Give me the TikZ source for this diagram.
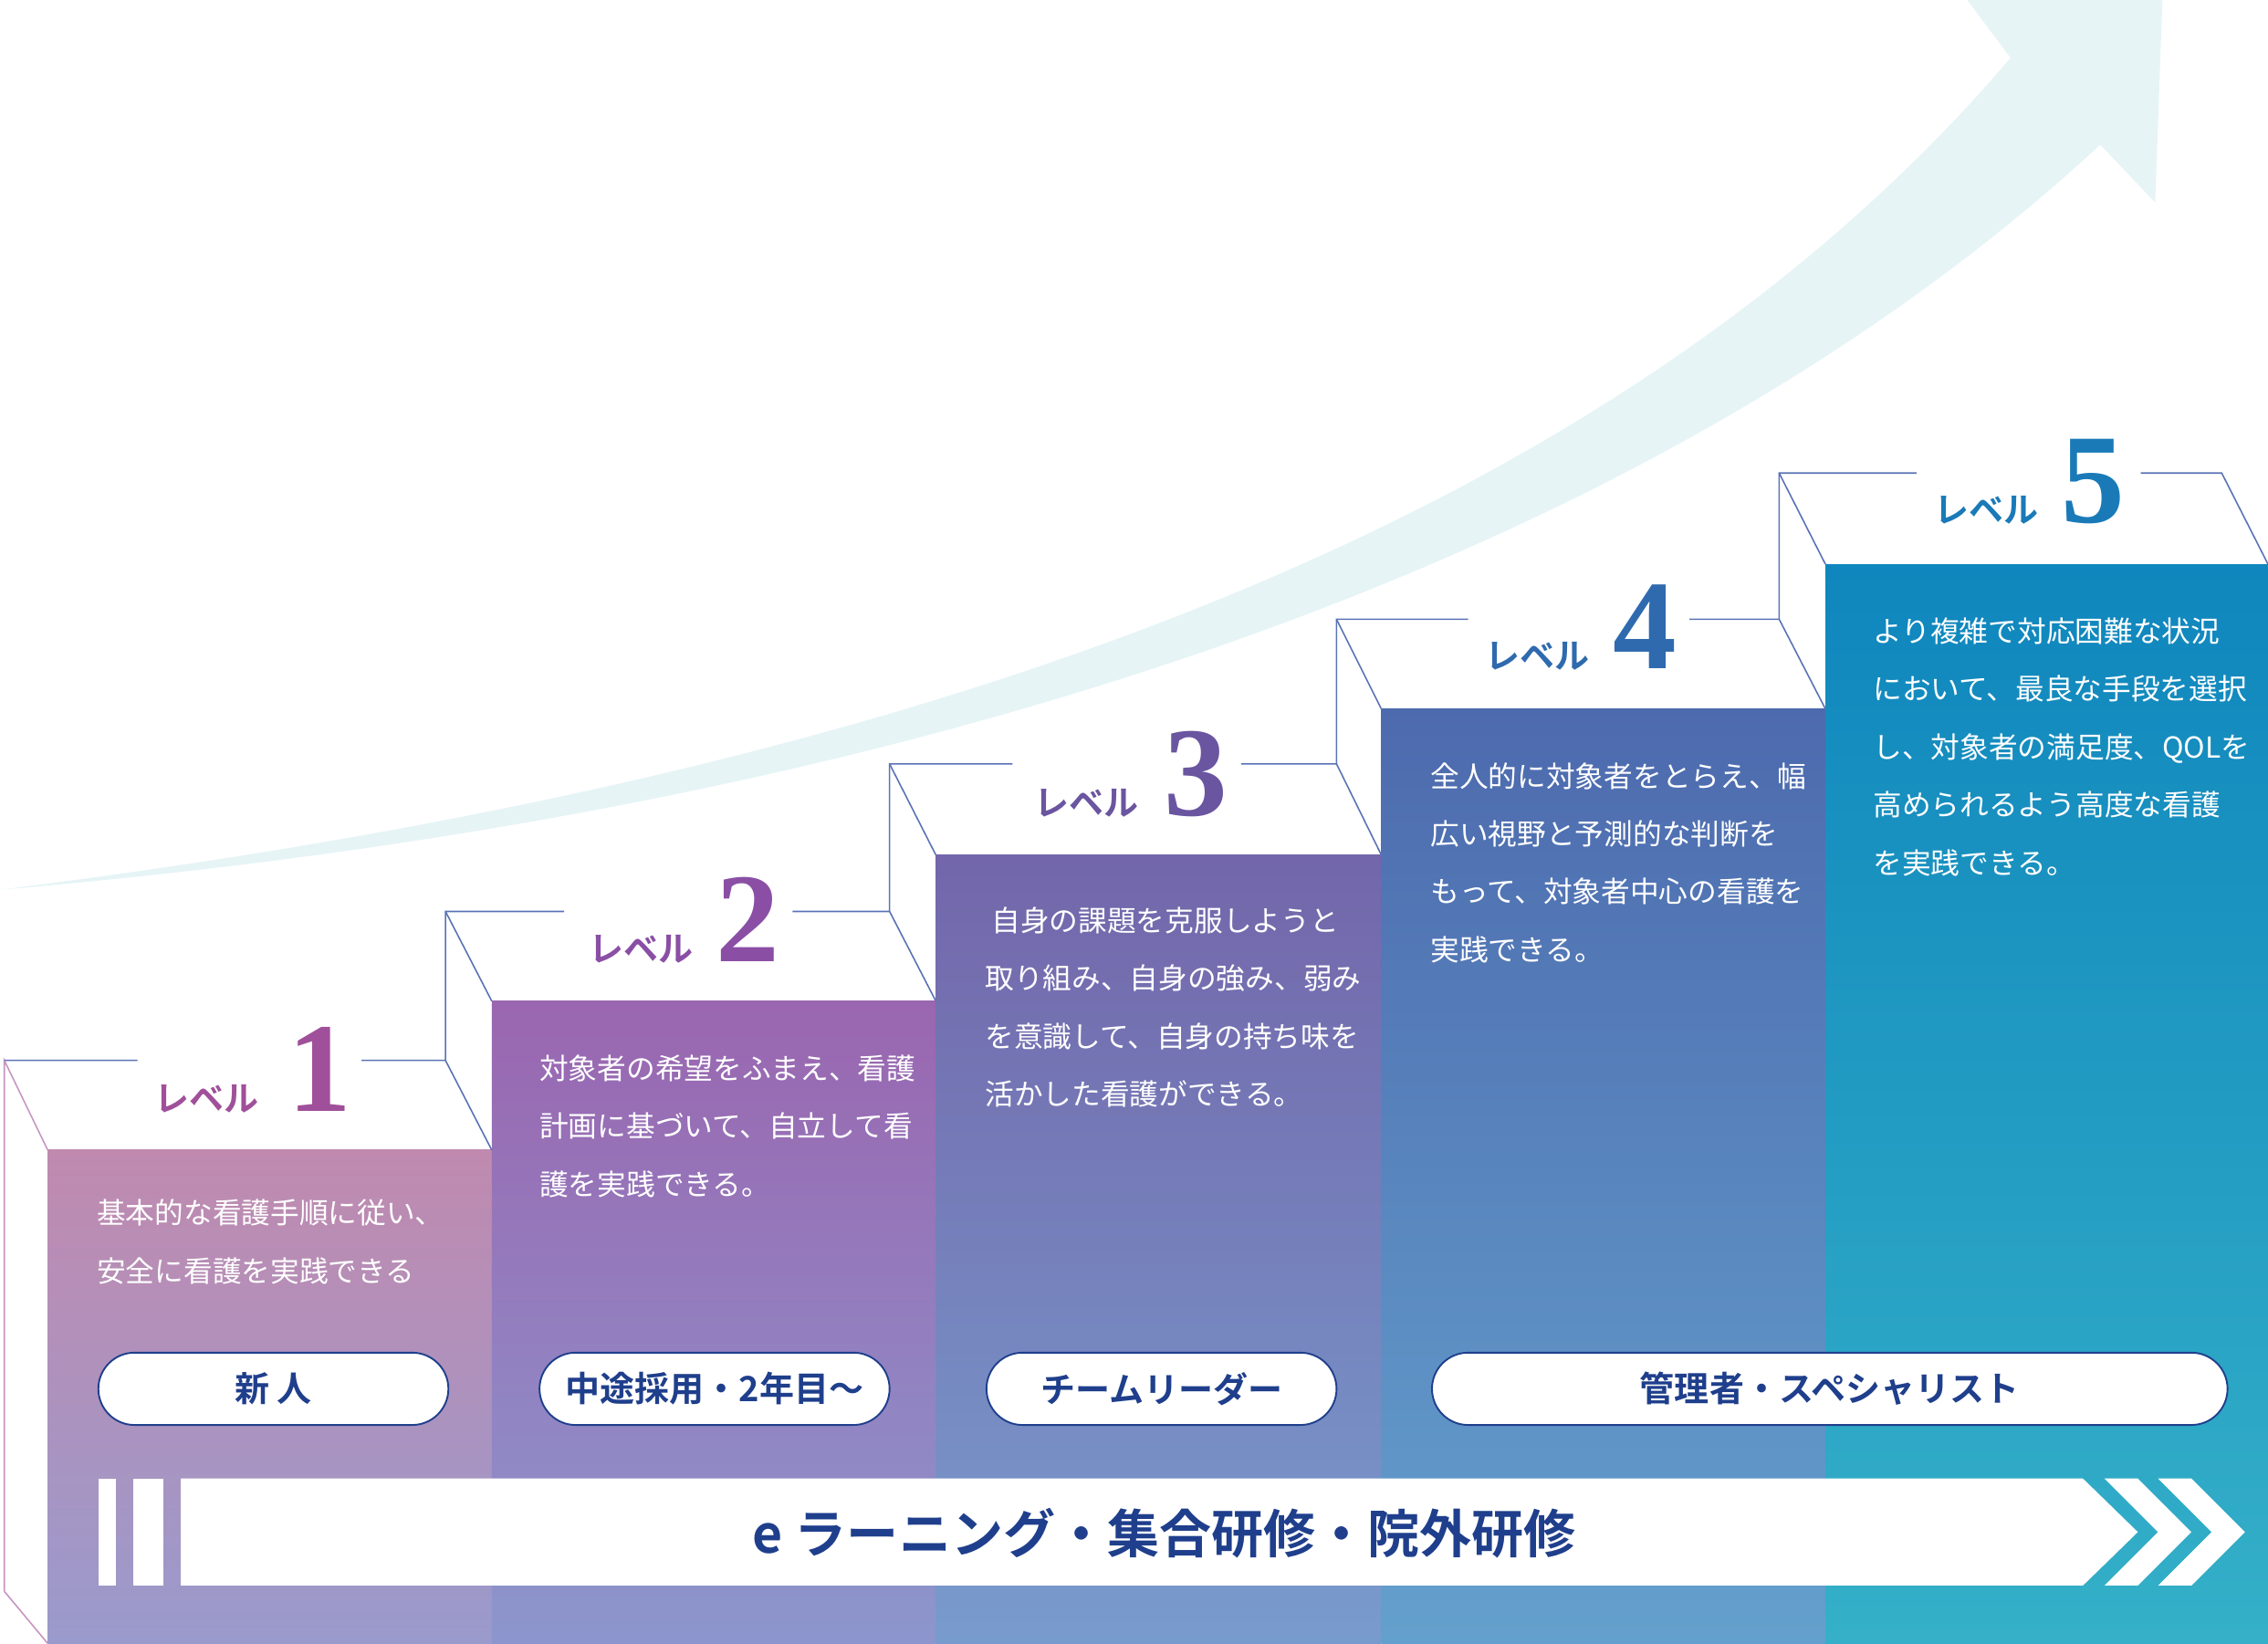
\documentclass[tikz,border=0pt]{standalone}
\usepackage{fontspec}
\setmainfont{Noto Sans CJK JP}[BoldFont={Noto Sans CJK JP Bold}]
\newfontfamily\numf{Liberation Serif}
\usetikzlibrary{calc}
\definecolor{arr}{HTML}{E6F4F6}
\definecolor{pillc}{HTML}{1F3F8C}
\definecolor{lA}{HTML}{A0509A}
\definecolor{lB}{HTML}{8A4FA5}
\definecolor{lC}{HTML}{6A55A0}
\definecolor{lD}{HTML}{2F6AAE}
\definecolor{lE}{HTML}{1A7AB8}
\definecolor{ln}{HTML}{5A73B5}
\tikzset{
 body/.style={text=white,anchor=north west,align=left,font=\fontsize{10}{20}\selectfont},
 pill/.style={draw=pillc,line width=0.6pt,fill=white,rounded corners=12.5pt,minimum height=25pt,text=pillc,font=\bfseries\fontsize{12}{14}\selectfont},
 lvl/.style={anchor=base west,font=\bfseries\fontsize{12}{14}\selectfont},
 num/.style={anchor=base west,font=\numf\bfseries\fontsize{44}{44}\selectfont},
 edge/.style={draw=ln,line width=0.5pt}
}
\begin{document}
\begin{tikzpicture}[x=0.5pt,y=-0.5pt]
\useasboundingbox (0,0) rectangle (1568,1136);
% swoosh
\fill[arr] (0,615) .. controls (600,540) and (1100,380) .. (1390,40) -- (1360,0) -- (1495,0) -- (1490,140) -- (1452,100) .. controls (1150,380) and (650,560) .. (0,615) -- cycle;
% columns
\shade[top color={rgb,255:red,192;green,138;blue,175},bottom color={rgb,255:red,154;green,154;blue,204}] (33,795) rectangle (340,1136);
\shade[top color={rgb,255:red,154;green,102;blue,176},bottom color={rgb,255:red,140;green,150;blue,205}] (340,692) rectangle (647,1136);
\shade[top color={rgb,255:red,115;green,102;blue,170},bottom color={rgb,255:red,120;green,155;blue,205}] (647,591) rectangle (955,1136);
\shade[top color={rgb,255:red,77;green,106;blue,174},bottom color={rgb,255:red,100;green,160;blue,205}] (955,490) rectangle (1262,1136);
\shade[top color={rgb,255:red,15;green,134;blue,189},bottom color={rgb,255:red,53;green,176;blue,200}] (1262,390) rectangle (1568,1136);
% outlines
\draw[edge,draw=lA!60] (3,1100) -- (3,733) -- (33,795);
\draw[edge,draw=lA!60] (3,1100) -- (33,1136);
\draw[edge] (3,733) -- (95,733) (250,733) -- (308,733) -- (340,795);
\draw[edge] (308,733) -- (308,630) -- (390,630) (548,630) -- (615,630) -- (647,692);
\draw[edge] (308,630) -- (340,692);
\draw[edge] (615,630) -- (615,528) -- (700,528) (858,528) -- (924,528) -- (955,591);
\draw[edge] (615,528) -- (647,591);
\draw[edge] (924,528) -- (924,428) -- (1015,428) (1168,428) -- (1230,428) -- (1262,490);
\draw[edge] (924,428) -- (955,490);
\draw[edge] (1230,428) -- (1230,327) -- (1325,327) (1480,327) -- (1536,327) -- (1568,390);
\draw[edge] (1230,327) -- (1262,390);
% labels
\node[lvl,text=lA] (l1) at (100,768) {レベル};
\node[num,text=lA] (n1) at (192,768) {1};
\node[lvl,text=lB] (l2) at (400,665) {レベル};
\node[num,text=lB] (n2) at (488,665) {2};
\node[lvl,text=lC] (l3) at (708,564) {レベル};
\node[num,text=lC] (n3) at (798,564) {3};
\node[lvl,text=lD] (l4) at (1020,462) {レベル};
\node[num,text=lD] (n4) at (1108,462) {4};
\node[lvl,text=lE] (l5) at (1330,361) {レベル};
\node[num,text=lE] (n5) at (1418,361) {5};
% body texts
\node[body] (t1) at (60,822) {基本的な看護手順に従い、\\安全に看護を実践できる};
\node[body] (t2) at (366,722) {対象者の希望をふまえ、看護\\計画に基づいて、自立して看\\護を実践できる。};
\node[body] (t3) at (674,620) {\ 自身の課題を克服しようと\\取り組み、自身の強み、弱み\\を意識して、自身の持ち味を\\活かした看護ができる。};
\node[body] (t4) at (982,520) {全人的に対象者をとらえ、幅\\広い視野と予測的な判断を\\もって、対象者中心の看護を\\実践できる。};
\node[body] (t5) at (1288,420) {より複雑で対応困難な状況\\において、最良な手段を選択\\し、対象者の満足度、QOLを\\高められるよう高度な看護\\を実践できる。};
% pills
\node[pill,minimum width=121pt] (p1) at (189,960) {新\ 人};
\node[pill,minimum width=121pt] (p2) at (494,960) {中途採用・2年目〜};
\node[pill,minimum width=121pt] (p3) at (803,960) {チームリーダー};
\node[pill,minimum width=275pt] (p4) at (1265,960) {管理者・スペシャリスト};
% bottom bar
\fill[white] (68,1022) rectangle (80,1096);
\fill[white] (92,1022) rectangle (113,1096);
\fill[white] (125,1022) -- (1440,1022) -- (1478,1059) -- (1440,1096) -- (125,1096) -- cycle;
\fill[white] (1455,1022) -- (1478,1022) -- (1515,1059) -- (1478,1096) -- (1455,1096) -- (1492,1059) -- cycle;
\fill[white] (1492,1022) -- (1515,1022) -- (1552,1059) -- (1515,1096) -- (1492,1096) -- (1529,1059) -- cycle;
\node[text=pillc,font=\bfseries\fontsize{18}{20}\selectfont] (bar) at (805,1060) {e ラーニング・集合研修・院外研修};
\end{tikzpicture}
\end{document}
